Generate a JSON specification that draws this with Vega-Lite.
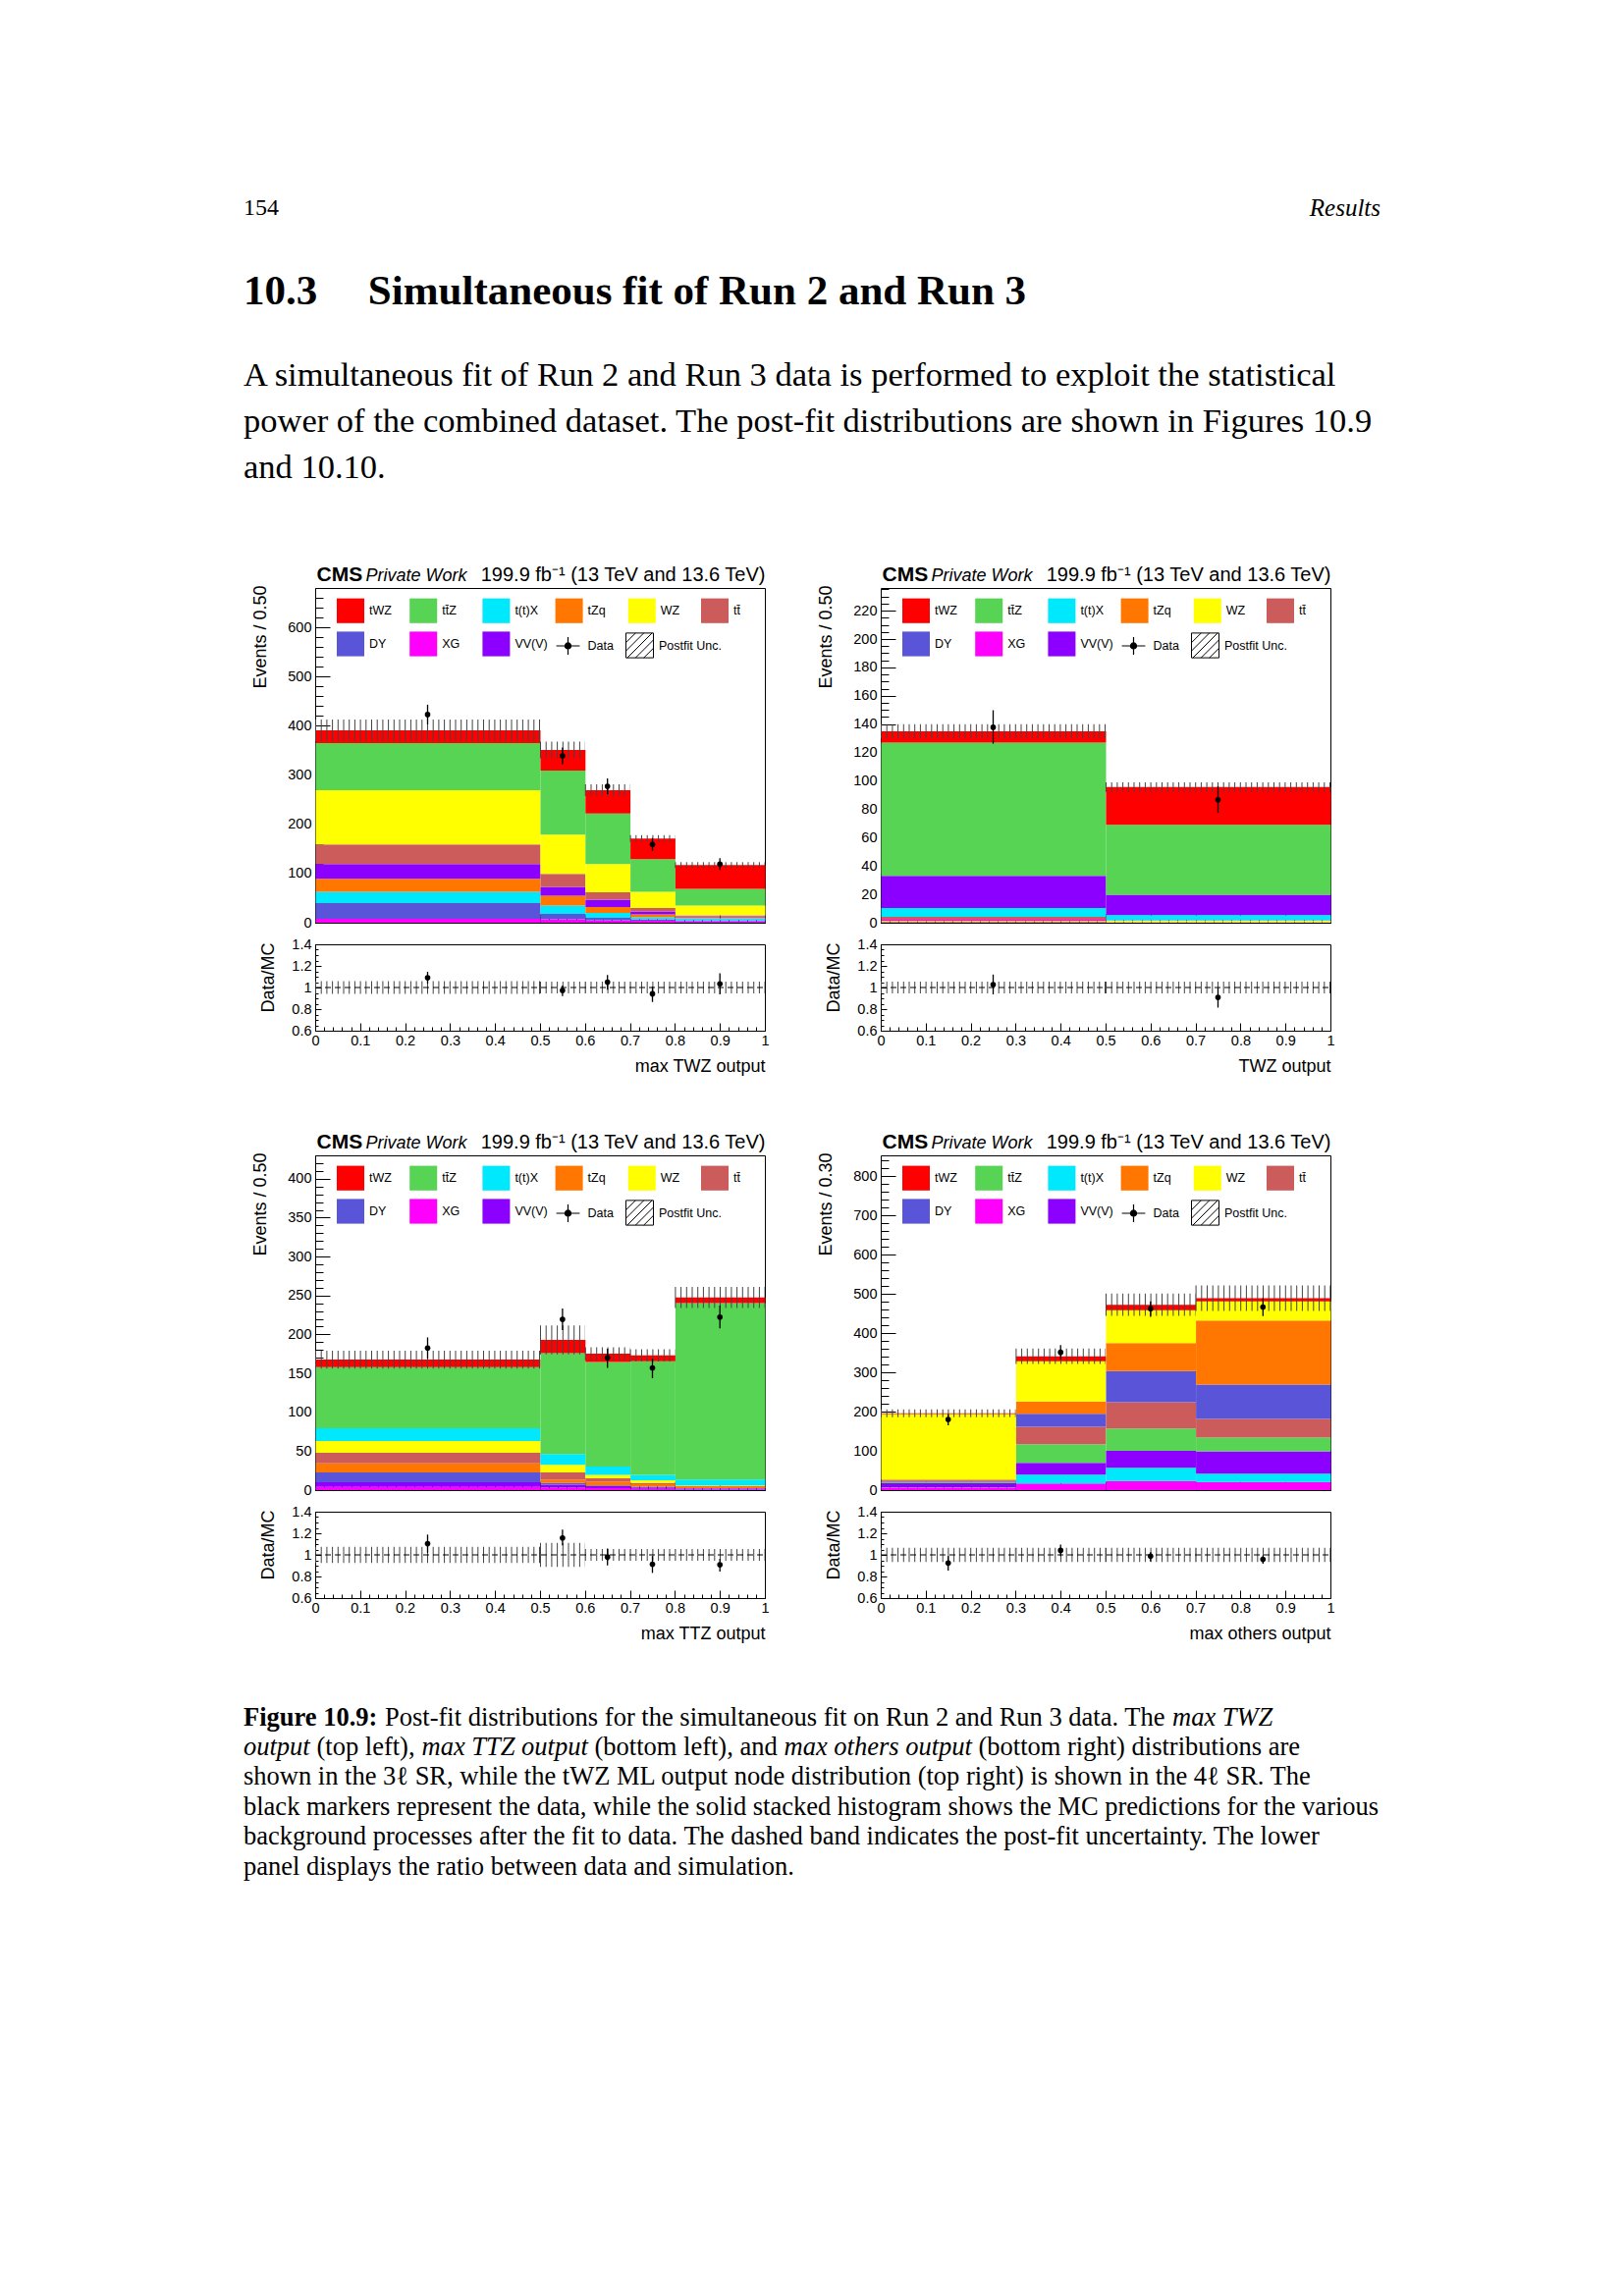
{
"$schema": "https://vega.github.io/schema/vega-lite/v6.json",
"background": "white",
"padding": {"left": 248, "top": 200, "right": 20, "bottom": 20},
"autosize": {"type": "pad"},
"columns": 2,
"spacing": {"row": 127, "column": 118},
"bounds": "flush",
"resolve": {"scale": {"color": "independent", "fill": "independent", "stroke": "independent", "strokeWidth": "independent"}},
"config": {
  "view": {"stroke": null},
  "axis": {"grid": false, "domain": false, "domainColor": "black", "domainWidth": 1, "tickColor": "black", "tickWidth": 1, "labelFont": "Liberation Sans", "labelFontSize": 14.5, "labelColor": "black", "titleFont": "Liberation Sans", "titleFontSize": 18, "titleFontWeight": "normal", "titleColor": "black", "labelFlush": false, "labelOverlap": false, "labelBound": false, "zindex": 1},
  "legend": {"labelFont": "Liberation Sans", "labelColor": "black", "labelFontSize": 12.5, "padding": 0, "labelLimit": 300},
  "text": {"color": "black"}
},
"datasets": {
  "tl_mc": [
    {"lo":0,"hi":0.5,"process":"XG","value":8},{"lo":0,"hi":0.5,"process":"DY","value":32},{"lo":0,"hi":0.5,"process":"t(t)X","value":23},{"lo":0,"hi":0.5,"process":"tZq","value":26},{"lo":0,"hi":0.5,"process":"VV(V)","value":30},{"lo":0,"hi":0.5,"process":"tt\u0304","value":40},{"lo":0,"hi":0.5,"process":"WZ","value":110},{"lo":0,"hi":0.5,"process":"tt\u0304Z","value":96},{"lo":0,"hi":0.5,"process":"tWZ","value":26},
    {"lo":0.5,"hi":0.6,"process":"XG","value":7},{"lo":0.5,"hi":0.6,"process":"DY","value":11},{"lo":0.5,"hi":0.6,"process":"t(t)X","value":17},{"lo":0.5,"hi":0.6,"process":"tZq","value":20},{"lo":0.5,"hi":0.6,"process":"VV(V)","value":18},{"lo":0.5,"hi":0.6,"process":"tt\u0304","value":26},{"lo":0.5,"hi":0.6,"process":"WZ","value":80},{"lo":0.5,"hi":0.6,"process":"tt\u0304Z","value":130},{"lo":0.5,"hi":0.6,"process":"tWZ","value":42},
    {"lo":0.6,"hi":0.7,"process":"XG","value":5},{"lo":0.6,"hi":0.7,"process":"DY","value":5},{"lo":0.6,"hi":0.7,"process":"t(t)X","value":10},{"lo":0.6,"hi":0.7,"process":"tZq","value":12},{"lo":0.6,"hi":0.7,"process":"VV(V)","value":15},{"lo":0.6,"hi":0.7,"process":"tt\u0304","value":15},{"lo":0.6,"hi":0.7,"process":"WZ","value":57},{"lo":0.6,"hi":0.7,"process":"tt\u0304Z","value":103},{"lo":0.6,"hi":0.7,"process":"tWZ","value":47},
    {"lo":0.7,"hi":0.8,"process":"XG","value":4},{"lo":0.7,"hi":0.8,"process":"DY","value":3},{"lo":0.7,"hi":0.8,"process":"t(t)X","value":4},{"lo":0.7,"hi":0.8,"process":"tZq","value":6},{"lo":0.7,"hi":0.8,"process":"VV(V)","value":6},{"lo":0.7,"hi":0.8,"process":"tt\u0304","value":7},{"lo":0.7,"hi":0.8,"process":"WZ","value":33},{"lo":0.7,"hi":0.8,"process":"tt\u0304Z","value":66},{"lo":0.7,"hi":0.8,"process":"tWZ","value":42},
    {"lo":0.8,"hi":1,"process":"XG","value":3},{"lo":0.8,"hi":1,"process":"DY","value":2},{"lo":0.8,"hi":1,"process":"t(t)X","value":4},{"lo":0.8,"hi":1,"process":"tZq","value":2},{"lo":0.8,"hi":1,"process":"VV(V)","value":2},{"lo":0.8,"hi":1,"process":"tt\u0304","value":2},{"lo":0.8,"hi":1,"process":"WZ","value":20},{"lo":0.8,"hi":1,"process":"tt\u0304Z","value":34},{"lo":0.8,"hi":1,"process":"tWZ","value":48}
  ],
  "tl_bins": [
    {"lo":0,"hi":0.5,"xc":0.25,"data":423,"dlo":403,"dhi":443,"unc":22,"ratio":1.09,"rlo":1.035,"rhi":1.145,"runc":0.06},
    {"lo":0.5,"hi":0.6,"xc":0.55,"data":339,"dlo":322,"dhi":356,"unc":17,"ratio":0.973,"rlo":0.92,"rhi":1.018,"runc":0.055},
    {"lo":0.6,"hi":0.7,"xc":0.65,"data":277,"dlo":261,"dhi":293,"unc":12,"ratio":1.049,"rlo":0.979,"rhi":1.116,"runc":0.055},
    {"lo":0.7,"hi":0.8,"xc":0.75,"data":159,"dlo":146,"dhi":172,"unc":7,"ratio":0.942,"rlo":0.866,"rhi":1.009,"runc":0.055},
    {"lo":0.8,"hi":1,"xc":0.9,"data":119,"dlo":107,"dhi":131,"unc":6,"ratio":1.034,"rlo":0.936,"rhi":1.131,"runc":0.055}
  ],
  "tr_mc": [
    {"lo":0,"hi":0.5,"process":"XG","value":1.0},{"lo":0,"hi":0.5,"process":"DY","value":0.4},{"lo":0,"hi":0.5,"process":"tZq","value":0.3},{"lo":0,"hi":0.5,"process":"tt\u0304","value":2.0},{"lo":0,"hi":0.5,"process":"WZ","value":0.4},{"lo":0,"hi":0.5,"process":"t(t)X","value":6.3},{"lo":0,"hi":0.5,"process":"VV(V)","value":22.6},{"lo":0,"hi":0.5,"process":"tt\u0304Z","value":94.0},{"lo":0,"hi":0.5,"process":"tWZ","value":8.0},
    {"lo":0.5,"hi":1,"process":"XG","value":0.3},{"lo":0.5,"hi":1,"process":"DY","value":0.2},{"lo":0.5,"hi":1,"process":"tZq","value":0.2},{"lo":0.5,"hi":1,"process":"tt\u0304","value":0.3},{"lo":0.5,"hi":1,"process":"WZ","value":0.8},{"lo":0.5,"hi":1,"process":"t(t)X","value":3.5},{"lo":0.5,"hi":1,"process":"VV(V)","value":14.5},{"lo":0.5,"hi":1,"process":"tt\u0304Z","value":49.3},{"lo":0.5,"hi":1,"process":"tWZ","value":26.5}
  ],
  "tr_bins": [
    {"lo":0,"hi":0.5,"xc":0.25,"data":137.8,"dlo":126.3,"dhi":149.8,"unc":5,"ratio":1.027,"rlo":0.936,"rhi":1.12,"runc":0.055},
    {"lo":0.5,"hi":1,"xc":0.75,"data":86.6,"dlo":77.4,"dhi":96.3,"unc":3.4,"ratio":0.908,"rlo":0.814,"rhi":0.997,"runc":0.055}
  ],
  "bl_mc": [
    {"lo":0,"hi":0.5,"process":"XG","value":4},{"lo":0,"hi":0.5,"process":"VV(V)","value":6},{"lo":0,"hi":0.5,"process":"DY","value":12.7},{"lo":0,"hi":0.5,"process":"tZq","value":11.8},{"lo":0,"hi":0.5,"process":"tt\u0304","value":13.4},{"lo":0,"hi":0.5,"process":"WZ","value":15.1},{"lo":0,"hi":0.5,"process":"t(t)X","value":16.4},{"lo":0,"hi":0.5,"process":"tt\u0304Z","value":78.6},{"lo":0,"hi":0.5,"process":"tWZ","value":9.6},
    {"lo":0.5,"hi":0.6,"process":"XG","value":3},{"lo":0.5,"hi":0.6,"process":"VV(V)","value":4},{"lo":0.5,"hi":0.6,"process":"DY","value":2},{"lo":0.5,"hi":0.6,"process":"tZq","value":4.4},{"lo":0.5,"hi":0.6,"process":"tt\u0304","value":9.3},{"lo":0.5,"hi":0.6,"process":"WZ","value":9.7},{"lo":0.5,"hi":0.6,"process":"t(t)X","value":13.8},{"lo":0.5,"hi":0.6,"process":"tt\u0304Z","value":129.8},{"lo":0.5,"hi":0.6,"process":"tWZ","value":16.9},
    {"lo":0.6,"hi":0.7,"process":"XG","value":2.5},{"lo":0.6,"hi":0.7,"process":"VV(V)","value":2.5},{"lo":0.6,"hi":0.7,"process":"DY","value":1},{"lo":0.6,"hi":0.7,"process":"tZq","value":5},{"lo":0.6,"hi":0.7,"process":"tt\u0304","value":4},{"lo":0.6,"hi":0.7,"process":"WZ","value":4.7},{"lo":0.6,"hi":0.7,"process":"t(t)X","value":10.6},{"lo":0.6,"hi":0.7,"process":"tt\u0304Z","value":134.4},{"lo":0.6,"hi":0.7,"process":"tWZ","value":10.5},
    {"lo":0.7,"hi":0.8,"process":"XG","value":1.5},{"lo":0.7,"hi":0.8,"process":"VV(V)","value":2},{"lo":0.7,"hi":0.8,"process":"DY","value":1},{"lo":0.7,"hi":0.8,"process":"tZq","value":3},{"lo":0.7,"hi":0.8,"process":"tt\u0304","value":1.7},{"lo":0.7,"hi":0.8,"process":"WZ","value":3.4},{"lo":0.7,"hi":0.8,"process":"t(t)X","value":7.1},{"lo":0.7,"hi":0.8,"process":"tt\u0304Z","value":145.8},{"lo":0.7,"hi":0.8,"process":"tWZ","value":7.5},
    {"lo":0.8,"hi":1,"process":"XG","value":0.8},{"lo":0.8,"hi":1,"process":"VV(V)","value":1.0},{"lo":0.8,"hi":1,"process":"DY","value":0.7},{"lo":0.8,"hi":1,"process":"tZq","value":2.5},{"lo":0.8,"hi":1,"process":"tt\u0304","value":0.5},{"lo":0.8,"hi":1,"process":"WZ","value":0.4},{"lo":0.8,"hi":1,"process":"t(t)X","value":7.5},{"lo":0.8,"hi":1,"process":"tt\u0304Z","value":226.9},{"lo":0.8,"hi":1,"process":"tWZ","value":7.2}
  ],
  "bl_bins": [
    {"lo":0,"hi":0.5,"xc":0.25,"data":182.4,"dlo":168.9,"dhi":196.2,"unc":11.5,"ratio":1.104,"rlo":1.02,"rhi":1.188,"runc":0.075},
    {"lo":0.5,"hi":0.6,"xc":0.55,"data":219.3,"dlo":205.5,"dhi":233.2,"unc":18.5,"ratio":1.157,"rlo":1.089,"rhi":1.235,"runc":0.112},
    {"lo":0.6,"hi":0.7,"xc":0.65,"data":170,"dlo":157.1,"dhi":181.5,"unc":8.4,"ratio":0.98,"rlo":0.902,"rhi":1.058,"runc":0.055},
    {"lo":0.7,"hi":0.8,"xc":0.75,"data":157,"dlo":143.7,"dhi":168.9,"unc":7.8,"ratio":0.914,"rlo":0.833,"rhi":0.989,"runc":0.055},
    {"lo":0.8,"hi":1,"xc":0.9,"data":222.3,"dlo":207.6,"dhi":237,"unc":13.6,"ratio":0.908,"rlo":0.846,"rhi":0.964,"runc":0.055}
  ],
  "br_mc": [
    {"lo":0,"hi":0.3,"process":"XG","value":6.7},{"lo":0,"hi":0.3,"process":"t(t)X","value":0.5},{"lo":0,"hi":0.3,"process":"VV(V)","value":10},{"lo":0,"hi":0.3,"process":"tt\u0304Z","value":3},{"lo":0,"hi":0.3,"process":"tt\u0304","value":2},{"lo":0,"hi":0.3,"process":"DY","value":2},{"lo":0,"hi":0.3,"process":"tZq","value":3},{"lo":0,"hi":0.3,"process":"WZ","value":166.8},{"lo":0,"hi":0.3,"process":"tWZ","value":2},
    {"lo":0.3,"hi":0.5,"process":"XG","value":16.7},{"lo":0.3,"hi":0.5,"process":"t(t)X","value":22.6},{"lo":0.3,"hi":0.5,"process":"VV(V)","value":30.1},{"lo":0.3,"hi":0.5,"process":"tt\u0304Z","value":47.6},{"lo":0.3,"hi":0.5,"process":"tt\u0304","value":44.4},{"lo":0.3,"hi":0.5,"process":"DY","value":33.4},{"lo":0.3,"hi":0.5,"process":"tZq","value":31},{"lo":0.3,"hi":0.5,"process":"WZ","value":102.8},{"lo":0.3,"hi":0.5,"process":"tWZ","value":12.5},
    {"lo":0.5,"hi":0.7,"process":"XG","value":23.4},{"lo":0.5,"hi":0.7,"process":"t(t)X","value":33.5},{"lo":0.5,"hi":0.7,"process":"VV(V)","value":43.4},{"lo":0.5,"hi":0.7,"process":"tt\u0304Z","value":56.9},{"lo":0.5,"hi":0.7,"process":"tt\u0304","value":66.9},{"lo":0.5,"hi":0.7,"process":"DY","value":79.4},{"lo":0.5,"hi":0.7,"process":"tZq","value":71.1},{"lo":0.5,"hi":0.7,"process":"WZ","value":83.6},{"lo":0.5,"hi":0.7,"process":"tWZ","value":14.2},
    {"lo":0.7,"hi":1,"process":"XG","value":20.9},{"lo":0.7,"hi":1,"process":"t(t)X","value":20.9},{"lo":0.7,"hi":1,"process":"VV(V)","value":56.9},{"lo":0.7,"hi":1,"process":"tt\u0304Z","value":35.1},{"lo":0.7,"hi":1,"process":"tt\u0304","value":47.6},{"lo":0.7,"hi":1,"process":"DY","value":87.8},{"lo":0.7,"hi":1,"process":"tZq","value":163.1},{"lo":0.7,"hi":1,"process":"WZ","value":48.5},{"lo":0.7,"hi":1,"process":"tWZ","value":8.3}
  ],
  "br_bins": [
    {"lo":0,"hi":0.3,"xc":0.15,"data":180,"dlo":165,"dhi":194,"unc":10,"ratio":0.924,"rlo":0.855,"rhi":0.989,"runc":0.065},
    {"lo":0.3,"hi":0.5,"xc":0.4,"data":351,"dlo":332.8,"dhi":369.6,"unc":19.5,"ratio":1.042,"rlo":0.989,"rhi":1.095,"runc":0.065},
    {"lo":0.5,"hi":0.7,"xc":0.6,"data":462.4,"dlo":441.5,"dhi":480.8,"unc":28.4,"ratio":0.989,"rlo":0.939,"rhi":1.026,"runc":0.065},
    {"lo":0.7,"hi":1,"xc":0.85,"data":466.6,"dlo":443.1,"dhi":489.1,"unc":32.6,"ratio":0.958,"rlo":0.918,"rhi":0.995,"runc":0.065}
  ]
},
"concat": [
  {
    "width": 458, "height": 272,
    "layer": [
      {"data": {"values": [{"line": 0, "text": "154"}]},
       "mark": {"type": "text", "align": "left", "baseline": "middle", "font": "Liberation Serif", "fontSize": 24},
       "encoding": {"x": {"datum": 0, "type": "quantitative", "scale": {"domain": [0, 1], "range": [-73, 1085]}, "axis": null},
                    "y": {"field": "line", "type": "quantitative", "scale": {"domain": [0, 1], "range": [12, 60]}, "axis": null},
                    "text": {"field": "text", "type": "nominal"}}},
      {"data": {"values": [{"line": 0, "text": "10.3\u2003\u2009Simultaneous fit of Run 2 and Run 3"}]},
       "mark": {"type": "text", "align": "left", "baseline": "middle", "font": "Liberation Serif", "fontSize": 43, "fontWeight": "bold"},
       "encoding": {"x": {"datum": 0, "type": "quantitative", "scale": {"domain": [0, 1], "range": [-73, 1085]}, "axis": null},
                    "y": {"field": "line", "type": "quantitative", "scale": {"domain": [0, 1], "range": [97, 150]}, "axis": null},
                    "text": {"field": "text", "type": "nominal"}}},
      {"data": {"values": [
          {"line": 0, "text": "A simultaneous fit of Run 2 and Run 3 data is performed to exploit the statistical"},
          {"line": 1, "text": "power of the combined dataset.  The post-fit distributions are shown in Figures 10.9"},
          {"line": 2, "text": "and 10.10."}]},
       "mark": {"type": "text", "align": "left", "baseline": "middle", "font": "Liberation Serif", "fontSize": 34.5},
       "encoding": {"x": {"datum": 0, "type": "quantitative", "scale": {"domain": [0, 1], "range": [-73, 1085]}, "axis": null},
                    "y": {"field": "line", "type": "quantitative", "scale": {"domain": [0, 2], "range": [183, 277]}, "axis": null},
                    "text": {"field": "text", "type": "nominal"}}}
    ],
    "resolve": {"scale": {"y": "independent"}}
  },
  {
    "width": 458, "height": 272,
    "data": {"values": [{"line": 0, "text": "Results"}]},
    "mark": {"type": "text", "align": "right", "baseline": "middle", "font": "Liberation Serif", "fontSize": 25, "fontStyle": "italic"},
    "encoding": {"x": {"datum": 1, "type": "quantitative", "scale": {"domain": [0, 1], "range": [0, 509]}, "axis": null},
                 "y": {"field": "line", "type": "quantitative", "scale": {"domain": [0, 1], "range": [12, 60]}, "axis": null},
                 "text": {"field": "text", "type": "nominal"}}
  },
  {
    "width": 458, "height": 451,
    "layer": [
      {"data": {"name": "tl_mc"},
       "transform": [{"joinaggregate": [{"op": "sum", "field": "value", "as": "integral"}], "groupby": ["process"]}, {"calculate": "datum.process === 'tWZ' ? 1 : 0", "as": "sig"},
                     {"window": [{"op": "sum", "field": "value", "as": "top"}], "groupby": ["lo"], "sort": [{"field": "sig", "order": "ascending"}, {"field": "integral", "order": "ascending"}], "frame": [null, 0]},
                     {"calculate": "datum.top - datum.value", "as": "bottom"}],
       "mark": {"type": "bar", "binSpacing": 0, "strokeWidth": 0},
       "encoding": {
         "x": {"field": "lo", "type": "quantitative", "bin": "binned", "scale": {"domain": [0, 1], "nice": false, "zero": false}, "axis": {"orient": "bottom", "offset": -110, "values": [0,0.1,0.2,0.3,0.4,0.5,0.6,0.7,0.8,0.9,1], "labels": false, "tickSize": -9, "domain": true, "title": null}},
         "x2": {"field": "hi"},
         "y": {"field": "bottom", "type": "quantitative", "scale": {"domain": [0, 680], "range": [341, 0], "nice": false, "zero": true}, "axis": {"orient": "left", "values": [0,100,200,300,400,500,600], "ticks": false, "labelPadding": 4, "format": "d", "title": "Events / 0.50", "titleAngle": 270, "titleAlign": "right", "titleBaseline": "middle", "titleX": -56, "titleY": -3}},
         "y2": {"field": "top"},
         "color": {"field": "process", "type": "nominal", "scale": {"domain": ["tWZ","tt\u0304Z","t(t)X","tZq","WZ","tt\u0304","DY","XG","VV(V)"], "range": ["#ff0000","#58d454","#00e8fc","#ff7700","#ffff00","#cc5c5c","#5a55d8","#ff00ff","#8c00ff"]},
                   "legend": {"orient": "none", "legendX": 22, "legendY": 9, "columns": 6, "direction": "horizontal", "title": null, "symbolType": "M-1,-0.9H1V0.9H-1Z", "symbolSize": 784, "symbolStrokeWidth": 0, "symbolOpacity": 1, "labelFontSize": 12.5, "labelOffset": 5, "columnPadding": 7.2, "rowPadding": 7, "gridAlign": "all", "padding": 0}}
       }},
      {"data": {"name": "tl_mc"},
       "transform": [{"aggregate": [{"op": "sum", "field": "value", "as": "total"}], "groupby": ["lo", "hi"]}, {"lookup": "lo", "from": {"data": {"name": "tl_bins"}, "key": "lo", "fields": ["unc"]}}],
       "mark": {"type": "rule", "color": "#444444", "strokeDash": [1, 4.7]},
       "encoding": {
         "x": {"field": "lo", "type": "quantitative", "axis": {"orient": "bottom", "offset": -110, "values": [0,0.02,0.04,0.06,0.08,0.1,0.12,0.14,0.16,0.18,0.2,0.22,0.24,0.26,0.28,0.3,0.32,0.34,0.36,0.38,0.4,0.42,0.44,0.46,0.48,0.5,0.52,0.54,0.56,0.58,0.6,0.62,0.64,0.66,0.68,0.7,0.72,0.74,0.76,0.78,0.8,0.82,0.84,0.86,0.88,0.9,0.92,0.94,0.96,0.98,1], "labels": false, "tickSize": -4.5, "title": null}},
         "x2": {"field": "hi"},
         "y": {"field": "total", "type": "quantitative", "scale": {"domain": [0, 680], "range": [341, 0], "nice": false, "zero": true}, "axis": {"orient": "left", "values": [0,100,200,300,400,500,600], "labels": false, "tickSize": -15, "domain": true, "title": null}},
         "strokeWidth": {"field": "unc", "type": "quantitative", "scale": {"domain": [0, 680], "range": [0, 682]}, "legend": null}
       }},
      {"data": {"name": "tl_bins"},
       "mark": {"type": "rule", "color": "black", "strokeWidth": 1.3},
       "encoding": {
         "x": {"field": "xc", "type": "quantitative", "axis": {"orient": "top", "ticks": false, "labels": false, "domain": true, "title": "CMS", "titleFontWeight": "bold", "titleFontSize": 21, "titleX": 1, "titleY": -8, "titleAlign": "left", "titleBaseline": "alphabetic"}},
         "y": {"field": "dlo", "type": "quantitative", "scale": {"domain": [0, 680], "range": [341, 0], "nice": false, "zero": true}, "axis": {"orient": "left", "values": [0,20,40,60,80,100,120,140,160,180,200,220,240,260,280,300,320,340,360,380,400,420,440,460,480,500,520,540,560,580,600,620,640,660,680], "labels": false, "tickSize": -8, "title": null}},
         "y2": {"field": "dhi"},
         "stroke": {"datum": "Postfit Unc.", "type": "nominal", "scale": {"domain": ["Postfit Unc."], "range": ["black"]},
                    "legend": {"orient": "none", "legendX": 316, "legendY": 44, "title": null, "symbolType": "M-1,-0.9H1V0.9H-1ZM-1,-0.2L-0.3,-0.9M-1,0.4L0.3,-0.9M-0.9,0.9L0.9,-0.9M-0.3,0.9L1,-0.4M0.3,0.9L1,0.2", "symbolSize": 784, "symbolFillColor": "white", "symbolStrokeWidth": 1, "symbolOpacity": 1, "labelFontSize": 12.5, "labelOffset": 5, "padding": 0}}
       }},
      {"data": {"name": "tl_bins"},
       "mark": {"type": "point", "filled": true, "color": "black", "size": 32, "opacity": 1},
       "encoding": {
         "x": {"field": "xc", "type": "quantitative", "axis": {"orient": "top", "ticks": false, "labels": false, "domain": false, "title": "Private Work", "titleFontStyle": "italic", "titleFontSize": 18, "titleX": 51, "titleY": -8, "titleAlign": "left", "titleBaseline": "alphabetic"}},
         "y": {"field": "data", "type": "quantitative", "scale": {"domain": [0, 680], "range": [341, 0], "nice": false, "zero": true}, "axis": {"orient": "right", "ticks": false, "labels": false, "domain": true, "title": "199.9 fb\u207b\u00b9 (13 TeV and 13.6 TeV)", "titleAngle": 0, "titleFontSize": 20, "titleX": 0, "titleY": -8, "titleAlign": "right", "titleBaseline": "alphabetic"}},
         "fill": {"datum": "Data", "type": "nominal", "scale": {"domain": ["Data"], "range": ["black"]},
                  "legend": {"orient": "none", "legendX": 242.5, "legendY": 44, "title": null, "symbolType": "M-0.85,0H0.85M0,-0.65V0.65M-0.22,0A0.22,0.22 0 1,0 0.22,0A0.22,0.22 0 1,0 -0.22,0", "symbolSize": 784, "symbolStrokeColor": "black", "symbolStrokeWidth": 1.2, "symbolOpacity": 1, "labelFontSize": 12.5, "labelOffset": 5, "padding": 0}}
       }},
      {"data": {"name": "tl_bins"},
       "mark": {"type": "rule", "color": "#444444", "strokeDash": [1, 4.7]},
       "encoding": {
         "x": {"field": "lo", "type": "quantitative", "axis": {"orient": "bottom", "values": [0,0.1,0.2,0.3,0.4,0.5,0.6,0.7,0.8,0.9,1], "ticks": false, "labelPadding": 3, "format": "~g", "title": "max TWZ output", "titleAlign": "right", "titleBaseline": "alphabetic", "titleX": 458, "titleY": 41}},
         "x2": {"field": "hi"},
         "y": {"datum": 1, "type": "quantitative", "scale": {"domain": [0.6, 1.4], "range": [451, 363], "nice": false, "zero": false}, "axis": {"orient": "left", "values": [0.6,0.8,1,1.2,1.4], "labels": false, "tickSize": -6, "domain": true, "title": null}},
         "strokeWidth": {"field": "runc", "type": "quantitative", "scale": {"domain": [0, 0.8], "range": [0, 176]}, "legend": null}
       }},
      {"data": {"values": [{}]},
       "mark": {"type": "rule", "color": "black", "strokeDash": [6, 4], "strokeWidth": 1},
       "encoding": {
         "x": {"datum": 0, "type": "quantitative", "axis": {"orient": "top", "offset": -363, "ticks": false, "labels": false, "domain": true, "title": null}},
         "x2": {"datum": 1},
         "y": {"datum": 1, "type": "quantitative", "scale": {"domain": [0.6, 1.4], "range": [451, 363], "nice": false, "zero": false}, "axis": {"orient": "right", "ticks": false, "labels": false, "domain": true, "title": null}}
       }},
      {"data": {"name": "tl_bins"},
       "mark": {"type": "rule", "color": "black", "strokeWidth": 1.3},
       "encoding": {
         "x": {"field": "xc", "type": "quantitative", "axis": {"orient": "bottom", "values": [0,0.1,0.2,0.3,0.4,0.5,0.6,0.7,0.8,0.9,1], "labels": false, "tickSize": -8, "domain": true, "title": null}},
         "y": {"field": "rlo", "type": "quantitative", "scale": {"domain": [0.6, 1.4], "range": [451, 363], "nice": false, "zero": false}, "axis": {"orient": "left", "values": [0.6,0.8,1,1.2,1.4], "ticks": false, "labelPadding": 4, "format": "~g", "title": "Data/MC", "titleAngle": 270, "titleAlign": "right", "titleBaseline": "middle", "titleX": -48, "titleY": 361}},
         "y2": {"field": "rhi"}
       }},
      {"data": {"name": "tl_bins"},
       "mark": {"type": "point", "filled": true, "color": "black", "size": 32, "opacity": 1},
       "encoding": {
         "x": {"field": "xc", "type": "quantitative", "axis": {"orient": "bottom", "values": [0,0.02,0.04,0.06,0.08,0.1,0.12,0.14,0.16,0.18,0.2,0.22,0.24,0.26,0.28,0.3,0.32,0.34,0.36,0.38,0.4,0.42,0.44,0.46,0.48,0.5,0.52,0.54,0.56,0.58,0.6,0.62,0.64,0.66,0.68,0.7,0.72,0.74,0.76,0.78,0.8,0.82,0.84,0.86,0.88,0.9,0.92,0.94,0.96,0.98,1], "labels": false, "tickSize": -4, "title": null}},
         "y": {"field": "ratio", "type": "quantitative", "scale": {"domain": [0.6, 1.4], "range": [451, 363], "nice": false, "zero": false}, "axis": {"orient": "left", "values": [0.6,0.65,0.7,0.75,0.8,0.85,0.9,0.95,1,1.05,1.1,1.15,1.2,1.25,1.3,1.35,1.4], "labels": false, "tickSize": -3, "title": null}}
       }}
    ],
    "resolve": {"scale": {"y": "independent", "strokeWidth": "independent"}, "axis": {"x": "independent", "y": "independent"}}
  },
  {
    "width": 458, "height": 451,
    "layer": [
      {"data": {"name": "tr_mc"},
       "transform": [{"joinaggregate": [{"op": "sum", "field": "value", "as": "integral"}], "groupby": ["process"]}, {"calculate": "datum.process === 'tWZ' ? 1 : 0", "as": "sig"},
                     {"window": [{"op": "sum", "field": "value", "as": "top"}], "groupby": ["lo"], "sort": [{"field": "sig", "order": "ascending"}, {"field": "integral", "order": "ascending"}], "frame": [null, 0]},
                     {"calculate": "datum.top - datum.value", "as": "bottom"}],
       "mark": {"type": "bar", "binSpacing": 0, "strokeWidth": 0},
       "encoding": {
         "x": {"field": "lo", "type": "quantitative", "bin": "binned", "scale": {"domain": [0, 1], "nice": false, "zero": false}, "axis": {"orient": "bottom", "offset": -110, "values": [0,0.1,0.2,0.3,0.4,0.5,0.6,0.7,0.8,0.9,1], "labels": false, "tickSize": -9, "domain": true, "title": null}},
         "x2": {"field": "hi"},
         "y": {"field": "bottom", "type": "quantitative", "scale": {"domain": [0, 236], "range": [341, 0], "nice": false, "zero": true}, "axis": {"orient": "left", "values": [0,20,40,60,80,100,120,140,160,180,200,220], "ticks": false, "labelPadding": 4, "format": "d", "title": "Events / 0.50", "titleAngle": 270, "titleAlign": "right", "titleBaseline": "middle", "titleX": -56, "titleY": -3}},
         "y2": {"field": "top"},
         "color": {"field": "process", "type": "nominal", "scale": {"domain": ["tWZ","tt\u0304Z","t(t)X","tZq","WZ","tt\u0304","DY","XG","VV(V)"], "range": ["#ff0000","#58d454","#00e8fc","#ff7700","#ffff00","#cc5c5c","#5a55d8","#ff00ff","#8c00ff"]},
                   "legend": {"orient": "none", "legendX": 22, "legendY": 9, "columns": 6, "direction": "horizontal", "title": null, "symbolType": "M-1,-0.9H1V0.9H-1Z", "symbolSize": 784, "symbolStrokeWidth": 0, "symbolOpacity": 1, "labelFontSize": 12.5, "labelOffset": 5, "columnPadding": 7.2, "rowPadding": 7, "gridAlign": "all", "padding": 0}}
       }},
      {"data": {"name": "tr_mc"},
       "transform": [{"aggregate": [{"op": "sum", "field": "value", "as": "total"}], "groupby": ["lo", "hi"]}, {"lookup": "lo", "from": {"data": {"name": "tr_bins"}, "key": "lo", "fields": ["unc"]}}],
       "mark": {"type": "rule", "color": "#444444", "strokeDash": [1, 4.7]},
       "encoding": {
         "x": {"field": "lo", "type": "quantitative", "axis": {"orient": "bottom", "offset": -110, "values": [0,0.02,0.04,0.06,0.08,0.1,0.12,0.14,0.16,0.18,0.2,0.22,0.24,0.26,0.28,0.3,0.32,0.34,0.36,0.38,0.4,0.42,0.44,0.46,0.48,0.5,0.52,0.54,0.56,0.58,0.6,0.62,0.64,0.66,0.68,0.7,0.72,0.74,0.76,0.78,0.8,0.82,0.84,0.86,0.88,0.9,0.92,0.94,0.96,0.98,1], "labels": false, "tickSize": -4.5, "title": null}},
         "x2": {"field": "hi"},
         "y": {"field": "total", "type": "quantitative", "scale": {"domain": [0, 236], "range": [341, 0], "nice": false, "zero": true}, "axis": {"orient": "left", "values": [0,20,40,60,80,100,120,140,160,180,200,220], "labels": false, "tickSize": -15, "domain": true, "title": null}},
         "strokeWidth": {"field": "unc", "type": "quantitative", "scale": {"domain": [0, 236], "range": [0, 682]}, "legend": null}
       }},
      {"data": {"name": "tr_bins"},
       "mark": {"type": "rule", "color": "black", "strokeWidth": 1.3},
       "encoding": {
         "x": {"field": "xc", "type": "quantitative", "axis": {"orient": "top", "ticks": false, "labels": false, "domain": true, "title": "CMS", "titleFontWeight": "bold", "titleFontSize": 21, "titleX": 1, "titleY": -8, "titleAlign": "left", "titleBaseline": "alphabetic"}},
         "y": {"field": "dlo", "type": "quantitative", "scale": {"domain": [0, 236], "range": [341, 0], "nice": false, "zero": true}, "axis": {"orient": "left", "values": [0,5,10,15,20,25,30,35,40,45,50,55,60,65,70,75,80,85,90,95,100,105,110,115,120,125,130,135,140,145,150,155,160,165,170,175,180,185,190,195,200,205,210,215,220,225,230,235], "labels": false, "tickSize": -8, "title": null}},
         "y2": {"field": "dhi"},
         "stroke": {"datum": "Postfit Unc.", "type": "nominal", "scale": {"domain": ["Postfit Unc."], "range": ["black"]},
                    "legend": {"orient": "none", "legendX": 316, "legendY": 44, "title": null, "symbolType": "M-1,-0.9H1V0.9H-1ZM-1,-0.2L-0.3,-0.9M-1,0.4L0.3,-0.9M-0.9,0.9L0.9,-0.9M-0.3,0.9L1,-0.4M0.3,0.9L1,0.2", "symbolSize": 784, "symbolFillColor": "white", "symbolStrokeWidth": 1, "symbolOpacity": 1, "labelFontSize": 12.5, "labelOffset": 5, "padding": 0}}
       }},
      {"data": {"name": "tr_bins"},
       "mark": {"type": "point", "filled": true, "color": "black", "size": 32, "opacity": 1},
       "encoding": {
         "x": {"field": "xc", "type": "quantitative", "axis": {"orient": "top", "ticks": false, "labels": false, "domain": false, "title": "Private Work", "titleFontStyle": "italic", "titleFontSize": 18, "titleX": 51, "titleY": -8, "titleAlign": "left", "titleBaseline": "alphabetic"}},
         "y": {"field": "data", "type": "quantitative", "scale": {"domain": [0, 236], "range": [341, 0], "nice": false, "zero": true}, "axis": {"orient": "right", "ticks": false, "labels": false, "domain": true, "title": "199.9 fb\u207b\u00b9 (13 TeV and 13.6 TeV)", "titleAngle": 0, "titleFontSize": 20, "titleX": 0, "titleY": -8, "titleAlign": "right", "titleBaseline": "alphabetic"}},
         "fill": {"datum": "Data", "type": "nominal", "scale": {"domain": ["Data"], "range": ["black"]},
                  "legend": {"orient": "none", "legendX": 242.5, "legendY": 44, "title": null, "symbolType": "M-0.85,0H0.85M0,-0.65V0.65M-0.22,0A0.22,0.22 0 1,0 0.22,0A0.22,0.22 0 1,0 -0.22,0", "symbolSize": 784, "symbolStrokeColor": "black", "symbolStrokeWidth": 1.2, "symbolOpacity": 1, "labelFontSize": 12.5, "labelOffset": 5, "padding": 0}}
       }},
      {"data": {"name": "tr_bins"},
       "mark": {"type": "rule", "color": "#444444", "strokeDash": [1, 4.7]},
       "encoding": {
         "x": {"field": "lo", "type": "quantitative", "axis": {"orient": "bottom", "values": [0,0.1,0.2,0.3,0.4,0.5,0.6,0.7,0.8,0.9,1], "ticks": false, "labelPadding": 3, "format": "~g", "title": "TWZ output", "titleAlign": "right", "titleBaseline": "alphabetic", "titleX": 458, "titleY": 41}},
         "x2": {"field": "hi"},
         "y": {"datum": 1, "type": "quantitative", "scale": {"domain": [0.6, 1.4], "range": [451, 363], "nice": false, "zero": false}, "axis": {"orient": "left", "values": [0.6,0.8,1,1.2,1.4], "labels": false, "tickSize": -6, "domain": true, "title": null}},
         "strokeWidth": {"field": "runc", "type": "quantitative", "scale": {"domain": [0, 0.8], "range": [0, 176]}, "legend": null}
       }},
      {"data": {"values": [{}]},
       "mark": {"type": "rule", "color": "black", "strokeDash": [6, 4], "strokeWidth": 1},
       "encoding": {
         "x": {"datum": 0, "type": "quantitative", "axis": {"orient": "top", "offset": -363, "ticks": false, "labels": false, "domain": true, "title": null}},
         "x2": {"datum": 1},
         "y": {"datum": 1, "type": "quantitative", "scale": {"domain": [0.6, 1.4], "range": [451, 363], "nice": false, "zero": false}, "axis": {"orient": "right", "ticks": false, "labels": false, "domain": true, "title": null}}
       }},
      {"data": {"name": "tr_bins"},
       "mark": {"type": "rule", "color": "black", "strokeWidth": 1.3},
       "encoding": {
         "x": {"field": "xc", "type": "quantitative", "axis": {"orient": "bottom", "values": [0,0.1,0.2,0.3,0.4,0.5,0.6,0.7,0.8,0.9,1], "labels": false, "tickSize": -8, "domain": true, "title": null}},
         "y": {"field": "rlo", "type": "quantitative", "scale": {"domain": [0.6, 1.4], "range": [451, 363], "nice": false, "zero": false}, "axis": {"orient": "left", "values": [0.6,0.8,1,1.2,1.4], "ticks": false, "labelPadding": 4, "format": "~g", "title": "Data/MC", "titleAngle": 270, "titleAlign": "right", "titleBaseline": "middle", "titleX": -48, "titleY": 361}},
         "y2": {"field": "rhi"}
       }},
      {"data": {"name": "tr_bins"},
       "mark": {"type": "point", "filled": true, "color": "black", "size": 32, "opacity": 1},
       "encoding": {
         "x": {"field": "xc", "type": "quantitative", "axis": {"orient": "bottom", "values": [0,0.02,0.04,0.06,0.08,0.1,0.12,0.14,0.16,0.18,0.2,0.22,0.24,0.26,0.28,0.3,0.32,0.34,0.36,0.38,0.4,0.42,0.44,0.46,0.48,0.5,0.52,0.54,0.56,0.58,0.6,0.62,0.64,0.66,0.68,0.7,0.72,0.74,0.76,0.78,0.8,0.82,0.84,0.86,0.88,0.9,0.92,0.94,0.96,0.98,1], "labels": false, "tickSize": -4, "title": null}},
         "y": {"field": "ratio", "type": "quantitative", "scale": {"domain": [0.6, 1.4], "range": [451, 363], "nice": false, "zero": false}, "axis": {"orient": "left", "values": [0.6,0.65,0.7,0.75,0.8,0.85,0.9,0.95,1,1.05,1.1,1.15,1.2,1.25,1.3,1.35,1.4], "labels": false, "tickSize": -3, "title": null}}
       }}
    ],
    "resolve": {"scale": {"y": "independent", "strokeWidth": "independent"}, "axis": {"x": "independent", "y": "independent"}}
  },
  {
    "width": 458, "height": 451,
    "layer": [
      {"data": {"name": "bl_mc"},
       "transform": [{"joinaggregate": [{"op": "sum", "field": "value", "as": "integral"}], "groupby": ["process"]}, {"calculate": "datum.process === 'tWZ' ? 1 : 0", "as": "sig"},
                     {"window": [{"op": "sum", "field": "value", "as": "top"}], "groupby": ["lo"], "sort": [{"field": "sig", "order": "ascending"}, {"field": "integral", "order": "ascending"}], "frame": [null, 0]},
                     {"calculate": "datum.top - datum.value", "as": "bottom"}],
       "mark": {"type": "bar", "binSpacing": 0, "strokeWidth": 0},
       "encoding": {
         "x": {"field": "lo", "type": "quantitative", "bin": "binned", "scale": {"domain": [0, 1], "nice": false, "zero": false}, "axis": {"orient": "bottom", "offset": -110, "values": [0,0.1,0.2,0.3,0.4,0.5,0.6,0.7,0.8,0.9,1], "labels": false, "tickSize": -9, "domain": true, "title": null}},
         "x2": {"field": "hi"},
         "y": {"field": "bottom", "type": "quantitative", "scale": {"domain": [0, 430], "range": [341, 0], "nice": false, "zero": true}, "axis": {"orient": "left", "values": [0,50,100,150,200,250,300,350,400], "ticks": false, "labelPadding": 4, "format": "d", "title": "Events / 0.50", "titleAngle": 270, "titleAlign": "right", "titleBaseline": "middle", "titleX": -56, "titleY": -3}},
         "y2": {"field": "top"},
         "color": {"field": "process", "type": "nominal", "scale": {"domain": ["tWZ","tt\u0304Z","t(t)X","tZq","WZ","tt\u0304","DY","XG","VV(V)"], "range": ["#ff0000","#58d454","#00e8fc","#ff7700","#ffff00","#cc5c5c","#5a55d8","#ff00ff","#8c00ff"]},
                   "legend": {"orient": "none", "legendX": 22, "legendY": 9, "columns": 6, "direction": "horizontal", "title": null, "symbolType": "M-1,-0.9H1V0.9H-1Z", "symbolSize": 784, "symbolStrokeWidth": 0, "symbolOpacity": 1, "labelFontSize": 12.5, "labelOffset": 5, "columnPadding": 7.2, "rowPadding": 7, "gridAlign": "all", "padding": 0}}
       }},
      {"data": {"name": "bl_mc"},
       "transform": [{"aggregate": [{"op": "sum", "field": "value", "as": "total"}], "groupby": ["lo", "hi"]}, {"lookup": "lo", "from": {"data": {"name": "bl_bins"}, "key": "lo", "fields": ["unc"]}}],
       "mark": {"type": "rule", "color": "#444444", "strokeDash": [1, 4.7]},
       "encoding": {
         "x": {"field": "lo", "type": "quantitative", "axis": {"orient": "bottom", "offset": -110, "values": [0,0.02,0.04,0.06,0.08,0.1,0.12,0.14,0.16,0.18,0.2,0.22,0.24,0.26,0.28,0.3,0.32,0.34,0.36,0.38,0.4,0.42,0.44,0.46,0.48,0.5,0.52,0.54,0.56,0.58,0.6,0.62,0.64,0.66,0.68,0.7,0.72,0.74,0.76,0.78,0.8,0.82,0.84,0.86,0.88,0.9,0.92,0.94,0.96,0.98,1], "labels": false, "tickSize": -4.5, "title": null}},
         "x2": {"field": "hi"},
         "y": {"field": "total", "type": "quantitative", "scale": {"domain": [0, 430], "range": [341, 0], "nice": false, "zero": true}, "axis": {"orient": "left", "values": [0,50,100,150,200,250,300,350,400], "labels": false, "tickSize": -15, "domain": true, "title": null}},
         "strokeWidth": {"field": "unc", "type": "quantitative", "scale": {"domain": [0, 430], "range": [0, 682]}, "legend": null}
       }},
      {"data": {"name": "bl_bins"},
       "mark": {"type": "rule", "color": "black", "strokeWidth": 1.3},
       "encoding": {
         "x": {"field": "xc", "type": "quantitative", "axis": {"orient": "top", "ticks": false, "labels": false, "domain": true, "title": "CMS", "titleFontWeight": "bold", "titleFontSize": 21, "titleX": 1, "titleY": -8, "titleAlign": "left", "titleBaseline": "alphabetic"}},
         "y": {"field": "dlo", "type": "quantitative", "scale": {"domain": [0, 430], "range": [341, 0], "nice": false, "zero": true}, "axis": {"orient": "left", "values": [0,10,20,30,40,50,60,70,80,90,100,110,120,130,140,150,160,170,180,190,200,210,220,230,240,250,260,270,280,290,300,310,320,330,340,350,360,370,380,390,400,410,420,430], "labels": false, "tickSize": -8, "title": null}},
         "y2": {"field": "dhi"},
         "stroke": {"datum": "Postfit Unc.", "type": "nominal", "scale": {"domain": ["Postfit Unc."], "range": ["black"]},
                    "legend": {"orient": "none", "legendX": 316, "legendY": 44, "title": null, "symbolType": "M-1,-0.9H1V0.9H-1ZM-1,-0.2L-0.3,-0.9M-1,0.4L0.3,-0.9M-0.9,0.9L0.9,-0.9M-0.3,0.9L1,-0.4M0.3,0.9L1,0.2", "symbolSize": 784, "symbolFillColor": "white", "symbolStrokeWidth": 1, "symbolOpacity": 1, "labelFontSize": 12.5, "labelOffset": 5, "padding": 0}}
       }},
      {"data": {"name": "bl_bins"},
       "mark": {"type": "point", "filled": true, "color": "black", "size": 32, "opacity": 1},
       "encoding": {
         "x": {"field": "xc", "type": "quantitative", "axis": {"orient": "top", "ticks": false, "labels": false, "domain": false, "title": "Private Work", "titleFontStyle": "italic", "titleFontSize": 18, "titleX": 51, "titleY": -8, "titleAlign": "left", "titleBaseline": "alphabetic"}},
         "y": {"field": "data", "type": "quantitative", "scale": {"domain": [0, 430], "range": [341, 0], "nice": false, "zero": true}, "axis": {"orient": "right", "ticks": false, "labels": false, "domain": true, "title": "199.9 fb\u207b\u00b9 (13 TeV and 13.6 TeV)", "titleAngle": 0, "titleFontSize": 20, "titleX": 0, "titleY": -8, "titleAlign": "right", "titleBaseline": "alphabetic"}},
         "fill": {"datum": "Data", "type": "nominal", "scale": {"domain": ["Data"], "range": ["black"]},
                  "legend": {"orient": "none", "legendX": 242.5, "legendY": 44, "title": null, "symbolType": "M-0.85,0H0.85M0,-0.65V0.65M-0.22,0A0.22,0.22 0 1,0 0.22,0A0.22,0.22 0 1,0 -0.22,0", "symbolSize": 784, "symbolStrokeColor": "black", "symbolStrokeWidth": 1.2, "symbolOpacity": 1, "labelFontSize": 12.5, "labelOffset": 5, "padding": 0}}
       }},
      {"data": {"name": "bl_bins"},
       "mark": {"type": "rule", "color": "#444444", "strokeDash": [1, 4.7]},
       "encoding": {
         "x": {"field": "lo", "type": "quantitative", "axis": {"orient": "bottom", "values": [0,0.1,0.2,0.3,0.4,0.5,0.6,0.7,0.8,0.9,1], "ticks": false, "labelPadding": 3, "format": "~g", "title": "max TTZ output", "titleAlign": "right", "titleBaseline": "alphabetic", "titleX": 458, "titleY": 41}},
         "x2": {"field": "hi"},
         "y": {"datum": 1, "type": "quantitative", "scale": {"domain": [0.6, 1.4], "range": [451, 363], "nice": false, "zero": false}, "axis": {"orient": "left", "values": [0.6,0.8,1,1.2,1.4], "labels": false, "tickSize": -6, "domain": true, "title": null}},
         "strokeWidth": {"field": "runc", "type": "quantitative", "scale": {"domain": [0, 0.8], "range": [0, 176]}, "legend": null}
       }},
      {"data": {"values": [{}]},
       "mark": {"type": "rule", "color": "black", "strokeDash": [6, 4], "strokeWidth": 1},
       "encoding": {
         "x": {"datum": 0, "type": "quantitative", "axis": {"orient": "top", "offset": -363, "ticks": false, "labels": false, "domain": true, "title": null}},
         "x2": {"datum": 1},
         "y": {"datum": 1, "type": "quantitative", "scale": {"domain": [0.6, 1.4], "range": [451, 363], "nice": false, "zero": false}, "axis": {"orient": "right", "ticks": false, "labels": false, "domain": true, "title": null}}
       }},
      {"data": {"name": "bl_bins"},
       "mark": {"type": "rule", "color": "black", "strokeWidth": 1.3},
       "encoding": {
         "x": {"field": "xc", "type": "quantitative", "axis": {"orient": "bottom", "values": [0,0.1,0.2,0.3,0.4,0.5,0.6,0.7,0.8,0.9,1], "labels": false, "tickSize": -8, "domain": true, "title": null}},
         "y": {"field": "rlo", "type": "quantitative", "scale": {"domain": [0.6, 1.4], "range": [451, 363], "nice": false, "zero": false}, "axis": {"orient": "left", "values": [0.6,0.8,1,1.2,1.4], "ticks": false, "labelPadding": 4, "format": "~g", "title": "Data/MC", "titleAngle": 270, "titleAlign": "right", "titleBaseline": "middle", "titleX": -48, "titleY": 361}},
         "y2": {"field": "rhi"}
       }},
      {"data": {"name": "bl_bins"},
       "mark": {"type": "point", "filled": true, "color": "black", "size": 32, "opacity": 1},
       "encoding": {
         "x": {"field": "xc", "type": "quantitative", "axis": {"orient": "bottom", "values": [0,0.02,0.04,0.06,0.08,0.1,0.12,0.14,0.16,0.18,0.2,0.22,0.24,0.26,0.28,0.3,0.32,0.34,0.36,0.38,0.4,0.42,0.44,0.46,0.48,0.5,0.52,0.54,0.56,0.58,0.6,0.62,0.64,0.66,0.68,0.7,0.72,0.74,0.76,0.78,0.8,0.82,0.84,0.86,0.88,0.9,0.92,0.94,0.96,0.98,1], "labels": false, "tickSize": -4, "title": null}},
         "y": {"field": "ratio", "type": "quantitative", "scale": {"domain": [0.6, 1.4], "range": [451, 363], "nice": false, "zero": false}, "axis": {"orient": "left", "values": [0.6,0.65,0.7,0.75,0.8,0.85,0.9,0.95,1,1.05,1.1,1.15,1.2,1.25,1.3,1.35,1.4], "labels": false, "tickSize": -3, "title": null}}
       }}
    ],
    "resolve": {"scale": {"y": "independent", "strokeWidth": "independent"}, "axis": {"x": "independent", "y": "independent"}}
  },
  {
    "width": 458, "height": 451,
    "layer": [
      {"data": {"name": "br_mc"},
       "transform": [{"joinaggregate": [{"op": "sum", "field": "value", "as": "integral"}], "groupby": ["process"]}, {"calculate": "datum.process === 'tWZ' ? 1 : 0", "as": "sig"},
                     {"window": [{"op": "sum", "field": "value", "as": "top"}], "groupby": ["lo"], "sort": [{"field": "sig", "order": "ascending"}, {"field": "integral", "order": "ascending"}], "frame": [null, 0]},
                     {"calculate": "datum.top - datum.value", "as": "bottom"}],
       "mark": {"type": "bar", "binSpacing": 0, "strokeWidth": 0},
       "encoding": {
         "x": {"field": "lo", "type": "quantitative", "bin": "binned", "scale": {"domain": [0, 1], "nice": false, "zero": false}, "axis": {"orient": "bottom", "offset": -110, "values": [0,0.1,0.2,0.3,0.4,0.5,0.6,0.7,0.8,0.9,1], "labels": false, "tickSize": -9, "domain": true, "title": null}},
         "x2": {"field": "hi"},
         "y": {"field": "bottom", "type": "quantitative", "scale": {"domain": [0, 853], "range": [341, 0], "nice": false, "zero": true}, "axis": {"orient": "left", "values": [0,100,200,300,400,500,600,700,800], "ticks": false, "labelPadding": 4, "format": "d", "title": "Events / 0.30", "titleAngle": 270, "titleAlign": "right", "titleBaseline": "middle", "titleX": -56, "titleY": -3}},
         "y2": {"field": "top"},
         "color": {"field": "process", "type": "nominal", "scale": {"domain": ["tWZ","tt\u0304Z","t(t)X","tZq","WZ","tt\u0304","DY","XG","VV(V)"], "range": ["#ff0000","#58d454","#00e8fc","#ff7700","#ffff00","#cc5c5c","#5a55d8","#ff00ff","#8c00ff"]},
                   "legend": {"orient": "none", "legendX": 22, "legendY": 9, "columns": 6, "direction": "horizontal", "title": null, "symbolType": "M-1,-0.9H1V0.9H-1Z", "symbolSize": 784, "symbolStrokeWidth": 0, "symbolOpacity": 1, "labelFontSize": 12.5, "labelOffset": 5, "columnPadding": 7.2, "rowPadding": 7, "gridAlign": "all", "padding": 0}}
       }},
      {"data": {"name": "br_mc"},
       "transform": [{"aggregate": [{"op": "sum", "field": "value", "as": "total"}], "groupby": ["lo", "hi"]}, {"lookup": "lo", "from": {"data": {"name": "br_bins"}, "key": "lo", "fields": ["unc"]}}],
       "mark": {"type": "rule", "color": "#444444", "strokeDash": [1, 4.7]},
       "encoding": {
         "x": {"field": "lo", "type": "quantitative", "axis": {"orient": "bottom", "offset": -110, "values": [0,0.02,0.04,0.06,0.08,0.1,0.12,0.14,0.16,0.18,0.2,0.22,0.24,0.26,0.28,0.3,0.32,0.34,0.36,0.38,0.4,0.42,0.44,0.46,0.48,0.5,0.52,0.54,0.56,0.58,0.6,0.62,0.64,0.66,0.68,0.7,0.72,0.74,0.76,0.78,0.8,0.82,0.84,0.86,0.88,0.9,0.92,0.94,0.96,0.98,1], "labels": false, "tickSize": -4.5, "title": null}},
         "x2": {"field": "hi"},
         "y": {"field": "total", "type": "quantitative", "scale": {"domain": [0, 853], "range": [341, 0], "nice": false, "zero": true}, "axis": {"orient": "left", "values": [0,100,200,300,400,500,600,700,800], "labels": false, "tickSize": -15, "domain": true, "title": null}},
         "strokeWidth": {"field": "unc", "type": "quantitative", "scale": {"domain": [0, 853], "range": [0, 682]}, "legend": null}
       }},
      {"data": {"name": "br_bins"},
       "mark": {"type": "rule", "color": "black", "strokeWidth": 1.3},
       "encoding": {
         "x": {"field": "xc", "type": "quantitative", "axis": {"orient": "top", "ticks": false, "labels": false, "domain": true, "title": "CMS", "titleFontWeight": "bold", "titleFontSize": 21, "titleX": 1, "titleY": -8, "titleAlign": "left", "titleBaseline": "alphabetic"}},
         "y": {"field": "dlo", "type": "quantitative", "scale": {"domain": [0, 853], "range": [341, 0], "nice": false, "zero": true}, "axis": {"orient": "left", "values": [0,20,40,60,80,100,120,140,160,180,200,220,240,260,280,300,320,340,360,380,400,420,440,460,480,500,520,540,560,580,600,620,640,660,680,700,720,740,760,780,800,820,840], "labels": false, "tickSize": -8, "title": null}},
         "y2": {"field": "dhi"},
         "stroke": {"datum": "Postfit Unc.", "type": "nominal", "scale": {"domain": ["Postfit Unc."], "range": ["black"]},
                    "legend": {"orient": "none", "legendX": 316, "legendY": 44, "title": null, "symbolType": "M-1,-0.9H1V0.9H-1ZM-1,-0.2L-0.3,-0.9M-1,0.4L0.3,-0.9M-0.9,0.9L0.9,-0.9M-0.3,0.9L1,-0.4M0.3,0.9L1,0.2", "symbolSize": 784, "symbolFillColor": "white", "symbolStrokeWidth": 1, "symbolOpacity": 1, "labelFontSize": 12.5, "labelOffset": 5, "padding": 0}}
       }},
      {"data": {"name": "br_bins"},
       "mark": {"type": "point", "filled": true, "color": "black", "size": 32, "opacity": 1},
       "encoding": {
         "x": {"field": "xc", "type": "quantitative", "axis": {"orient": "top", "ticks": false, "labels": false, "domain": false, "title": "Private Work", "titleFontStyle": "italic", "titleFontSize": 18, "titleX": 51, "titleY": -8, "titleAlign": "left", "titleBaseline": "alphabetic"}},
         "y": {"field": "data", "type": "quantitative", "scale": {"domain": [0, 853], "range": [341, 0], "nice": false, "zero": true}, "axis": {"orient": "right", "ticks": false, "labels": false, "domain": true, "title": "199.9 fb\u207b\u00b9 (13 TeV and 13.6 TeV)", "titleAngle": 0, "titleFontSize": 20, "titleX": 0, "titleY": -8, "titleAlign": "right", "titleBaseline": "alphabetic"}},
         "fill": {"datum": "Data", "type": "nominal", "scale": {"domain": ["Data"], "range": ["black"]},
                  "legend": {"orient": "none", "legendX": 242.5, "legendY": 44, "title": null, "symbolType": "M-0.85,0H0.85M0,-0.65V0.65M-0.22,0A0.22,0.22 0 1,0 0.22,0A0.22,0.22 0 1,0 -0.22,0", "symbolSize": 784, "symbolStrokeColor": "black", "symbolStrokeWidth": 1.2, "symbolOpacity": 1, "labelFontSize": 12.5, "labelOffset": 5, "padding": 0}}
       }},
      {"data": {"name": "br_bins"},
       "mark": {"type": "rule", "color": "#444444", "strokeDash": [1, 4.7]},
       "encoding": {
         "x": {"field": "lo", "type": "quantitative", "axis": {"orient": "bottom", "values": [0,0.1,0.2,0.3,0.4,0.5,0.6,0.7,0.8,0.9,1], "ticks": false, "labelPadding": 3, "format": "~g", "title": "max others output", "titleAlign": "right", "titleBaseline": "alphabetic", "titleX": 458, "titleY": 41}},
         "x2": {"field": "hi"},
         "y": {"datum": 1, "type": "quantitative", "scale": {"domain": [0.6, 1.4], "range": [451, 363], "nice": false, "zero": false}, "axis": {"orient": "left", "values": [0.6,0.8,1,1.2,1.4], "labels": false, "tickSize": -6, "domain": true, "title": null}},
         "strokeWidth": {"field": "runc", "type": "quantitative", "scale": {"domain": [0, 0.8], "range": [0, 176]}, "legend": null}
       }},
      {"data": {"values": [{}]},
       "mark": {"type": "rule", "color": "black", "strokeDash": [6, 4], "strokeWidth": 1},
       "encoding": {
         "x": {"datum": 0, "type": "quantitative", "axis": {"orient": "top", "offset": -363, "ticks": false, "labels": false, "domain": true, "title": null}},
         "x2": {"datum": 1},
         "y": {"datum": 1, "type": "quantitative", "scale": {"domain": [0.6, 1.4], "range": [451, 363], "nice": false, "zero": false}, "axis": {"orient": "right", "ticks": false, "labels": false, "domain": true, "title": null}}
       }},
      {"data": {"name": "br_bins"},
       "mark": {"type": "rule", "color": "black", "strokeWidth": 1.3},
       "encoding": {
         "x": {"field": "xc", "type": "quantitative", "axis": {"orient": "bottom", "values": [0,0.1,0.2,0.3,0.4,0.5,0.6,0.7,0.8,0.9,1], "labels": false, "tickSize": -8, "domain": true, "title": null}},
         "y": {"field": "rlo", "type": "quantitative", "scale": {"domain": [0.6, 1.4], "range": [451, 363], "nice": false, "zero": false}, "axis": {"orient": "left", "values": [0.6,0.8,1,1.2,1.4], "ticks": false, "labelPadding": 4, "format": "~g", "title": "Data/MC", "titleAngle": 270, "titleAlign": "right", "titleBaseline": "middle", "titleX": -48, "titleY": 361}},
         "y2": {"field": "rhi"}
       }},
      {"data": {"name": "br_bins"},
       "mark": {"type": "point", "filled": true, "color": "black", "size": 32, "opacity": 1},
       "encoding": {
         "x": {"field": "xc", "type": "quantitative", "axis": {"orient": "bottom", "values": [0,0.02,0.04,0.06,0.08,0.1,0.12,0.14,0.16,0.18,0.2,0.22,0.24,0.26,0.28,0.3,0.32,0.34,0.36,0.38,0.4,0.42,0.44,0.46,0.48,0.5,0.52,0.54,0.56,0.58,0.6,0.62,0.64,0.66,0.68,0.7,0.72,0.74,0.76,0.78,0.8,0.82,0.84,0.86,0.88,0.9,0.92,0.94,0.96,0.98,1], "labels": false, "tickSize": -4, "title": null}},
         "y": {"field": "ratio", "type": "quantitative", "scale": {"domain": [0.6, 1.4], "range": [451, 363], "nice": false, "zero": false}, "axis": {"orient": "left", "values": [0.6,0.65,0.7,0.75,0.8,0.85,0.9,0.95,1,1.05,1.1,1.15,1.2,1.25,1.3,1.35,1.4], "labels": false, "tickSize": -3, "title": null}}
       }}
    ],
    "resolve": {"scale": {"y": "independent", "strokeWidth": "independent"}, "axis": {"x": "independent", "y": "independent"}}
  },
  {
    "width": 458, "height": 150,
    "encoding": {"x": {"datum": 0, "type": "quantitative", "scale": {"domain": [0, 1], "range": [-73, 1085]}, "axis": null},
                 "y": {"field": "line", "type": "quantitative", "scale": {"domain": [0, 5], "range": [-5.5, 146.75]}, "axis": null},
                 "text": {"field": "text", "type": "nominal"}},
    "layer": [
      {"data": {"values": [{"line": 0, "text": "Figure 10.9:"}]},
       "mark": {"type": "text", "align": "left", "baseline": "middle", "font": "Liberation Serif", "fontSize": 26.5, "fontWeight": "bold"}},
      {"data": {"values": [{"line": 0, "text": "Post-fit distributions for the simultaneous fit on Run 2 and Run 3 data. The"}]},
       "mark": {"type": "text", "align": "left", "baseline": "middle", "font": "Liberation Serif", "fontSize": 26.5, "dx": 144}},
      {"data": {"values": [{"line": 0, "text": "max TWZ"}]},
       "mark": {"type": "text", "align": "left", "baseline": "middle", "font": "Liberation Serif", "fontSize": 26.5, "fontStyle": "italic", "dx": 946}},
      {"data": {"values": [{"line": 1, "text": "output"}]},
       "mark": {"type": "text", "align": "left", "baseline": "middle", "font": "Liberation Serif", "fontSize": 26.5, "fontStyle": "italic", "dx": 0}},
      {"data": {"values": [{"line": 1, "text": "(top left),"}]},
       "mark": {"type": "text", "align": "left", "baseline": "middle", "font": "Liberation Serif", "fontSize": 26.5, "dx": 74.5}},
      {"data": {"values": [{"line": 1, "text": "max TTZ output"}]},
       "mark": {"type": "text", "align": "left", "baseline": "middle", "font": "Liberation Serif", "fontSize": 26.5, "fontStyle": "italic", "dx": 181.5}},
      {"data": {"values": [{"line": 1, "text": "(bottom left), and"}]},
       "mark": {"type": "text", "align": "left", "baseline": "middle", "font": "Liberation Serif", "fontSize": 26.5, "dx": 357.5}},
      {"data": {"values": [{"line": 1, "text": "max others output"}]},
       "mark": {"type": "text", "align": "left", "baseline": "middle", "font": "Liberation Serif", "fontSize": 26.5, "fontStyle": "italic", "dx": 550.5}},
      {"data": {"values": [{"line": 1, "text": "(bottom right) distributions are"}]},
       "mark": {"type": "text", "align": "left", "baseline": "middle", "font": "Liberation Serif", "fontSize": 26.5, "dx": 748.5}},
      {"data": {"values": [
          {"line": 2, "text": "shown in the 3\u2113 SR, while the tWZ ML output node distribution (top right) is shown in the 4\u2113 SR. The"},
          {"line": 3, "text": "black markers represent the data, while the solid stacked histogram shows the MC predictions for the various"},
          {"line": 4, "text": "background processes after the fit to data. The dashed band indicates the post-fit uncertainty. The lower"},
          {"line": 5, "text": "panel displays the ratio between data and simulation."}]},
       "mark": {"type": "text", "align": "left", "baseline": "middle", "font": "Liberation Serif", "fontSize": 26.5}}
    ]
  }
]
}
